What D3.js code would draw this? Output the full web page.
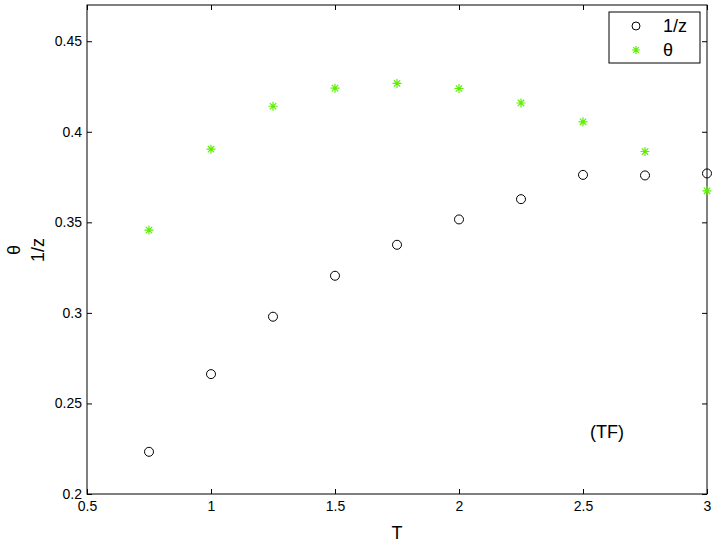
<!DOCTYPE html>
<html>
<head>
<meta charset="utf-8">
<script src="https://cdn.jsdelivr.net/npm/d3@7/dist/d3.min.js"></script>
<style>
  html, body { margin: 0; padding: 0; background: #fff; }
  svg { display: block; font-family: "Liberation Sans", Arial, Helvetica, sans-serif; }
</style>
</head>
<body>
<div id="chart"></div>
<script>
// T values and the two measured series
var temps = [0.75, 1, 1.25, 1.5, 1.75, 2, 2.25, 2.5, 2.75, 3];
var invZ = [0.2233, 0.2662, 0.2979, 0.3205, 0.3376, 0.3516, 0.3628, 0.3762, 0.3759, 0.3770];
var theta = [0.3457, 0.3904, 0.4141, 0.4241, 0.4267, 0.4239, 0.4159, 0.4055, 0.3891, 0.3674];
var xTicks = [0.5, 1, 1.5, 2, 2.5, 3];
var yTicks = [0.2, 0.25, 0.3, 0.35, 0.4, 0.45];

(function() {
  'use strict';

  var W = 721, H = 545;
  var left = 87, right = 707, top = 5, bottom = 494;
  var green = '#5cf000';

  var svg = d3.select('#chart').append('svg')
    .attr('width', W)
    .attr('height', H);

  var x = d3.scaleLinear().domain([0.5, 3]).range([left, right]);
  var y = d3.scaleLinear().domain([0.2, 0.47]).range([bottom, top]);

  var fmt = function(d) { return String(+d.toFixed(2)); };

  // axes, ticks inward on all four sides
  svg.append('g')
    .attr('transform', 'translate(0,' + bottom + ')')
    .call(d3.axisBottom(x).tickValues(xTicks).tickFormat(fmt).tickSizeInner(-5).tickSizeOuter(0).tickPadding(7))
    .call(styleAxis);
  svg.append('g')
    .attr('transform', 'translate(0,' + top + ')')
    .call(d3.axisTop(x).tickValues(xTicks).tickFormat('').tickSizeInner(-5).tickSizeOuter(0))
    .call(styleAxis);
  svg.append('g')
    .attr('transform', 'translate(' + left + ',0)')
    .call(d3.axisLeft(y).tickValues(yTicks).tickFormat(fmt).tickSizeInner(-5).tickSizeOuter(0).tickPadding(5))
    .call(styleAxis);
  svg.append('g')
    .attr('transform', 'translate(' + right + ',0)')
    .call(d3.axisRight(y).tickValues(yTicks).tickFormat('').tickSizeInner(-5).tickSizeOuter(0))
    .call(styleAxis);

  function styleAxis(g) {
    g.select('.domain').remove();
    g.selectAll('line').attr('stroke', '#000').attr('stroke-width', 1);
    g.selectAll('text').attr('font-size', 14).attr('fill', '#000')
      .attr('font-family', '"Liberation Sans", Arial, sans-serif');
  }

  svg.append('rect')
    .attr('x', left).attr('y', top)
    .attr('width', right - left).attr('height', bottom - top)
    .attr('fill', 'none').attr('stroke', '#000').attr('stroke-width', 1);

  // star marker path (matlab '*')
  function starPath(cx, cy, r) {
    var p = '';
    for (var k = 0; k < 4; k++) {
      var a = k * Math.PI / 4;
      var dx = r * Math.sin(a), dy = r * Math.cos(a);
      p += 'M' + (cx - dx) + ',' + (cy - dy) + 'L' + (cx + dx) + ',' + (cy + dy);
    }
    return p;
  }

  var pts = temps.map(function(t, i) { return { t: t, z: invZ[i], th: theta[i] }; });

  svg.append('g').selectAll('circle')
    .data(pts)
    .enter().append('circle')
    .attr('cx', function(d) { return x(d.t); })
    .attr('cy', function(d) { return y(d.z); })
    .attr('r', 4.5)
    .attr('fill', 'none')
    .attr('stroke', '#000')
    .attr('stroke-width', 1);

  svg.append('g').selectAll('path')
    .data(pts)
    .enter().append('path')
    .attr('d', function(d) { return starPath(x(d.t), y(d.th), 4.5); })
    .attr('stroke', green)
    .attr('stroke-width', 1.2)
    .attr('fill', 'none');

  // axis labels
  svg.append('text')
    .attr('x', (left + right) / 2)
    .attr('y', 539)
    .attr('text-anchor', 'middle')
    .attr('font-size', 18)
    .text('T');

  var yl = svg.append('text')
    .attr('transform', 'translate(20,250) rotate(-90)')
    .attr('text-anchor', 'middle')
    .attr('font-size', 18);
  yl.append('tspan').attr('x', 0).attr('dy', 0).text('θ');
  yl.append('tspan').attr('x', 0).attr('dy', 24).text('1/z');

  // annotation
  svg.append('text')
    .attr('x', 607)
    .attr('y', 438)
    .attr('text-anchor', 'middle')
    .attr('font-size', 18)
    .text('(TF)');

  // legend
  var lg = svg.append('g');
  lg.append('rect')
    .attr('x', 609).attr('y', 12)
    .attr('width', 91).attr('height', 51)
    .attr('fill', '#fff').attr('stroke', '#000').attr('stroke-width', 1);
  lg.append('circle')
    .attr('cx', 636).attr('cy', 26).attr('r', 4)
    .attr('fill', 'none').attr('stroke', '#000');
  lg.append('path')
    .attr('d', starPath(636, 50, 4))
    .attr('stroke', green).attr('stroke-width', 1.2);
  lg.append('text').attr('x', 663).attr('y', 32).attr('font-size', 18).text('1/z');
  lg.append('text').attr('x', 663).attr('y', 56).attr('font-size', 18).text('θ');
})();
</script>
</body>
</html>
